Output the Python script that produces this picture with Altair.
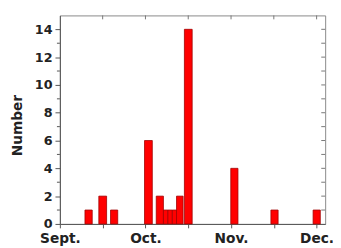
import altair as alt
import pandas as pd

# Bars: start / end position in months after 1 Sept, and count
bar_start = [0.293, 0.455, 0.592, 0.989, 1.126, 1.210, 1.262, 1.314, 1.363, 1.455, 1.997, 2.466, 2.959]
bar_end   = [0.378, 0.546, 0.676, 1.080, 1.210, 1.262, 1.314, 1.363, 1.440, 1.546, 2.081, 2.550, 3.043]
counts    = [1, 2, 1, 6, 2, 1, 1, 1, 2, 14, 4, 1, 1]

month_pos = [0, 1, 2, 3]
month_labels = ["Sept.", "Oct.", "Nov.", "Dec."]
half_ticks = [0, 0.5, 1, 1.5, 2, 2.5, 3]
y_major = [0, 2, 4, 6, 8, 10, 12, 14]
y_minor = [1, 3, 5, 7, 9, 11, 13]
y_right = list(range(1, 15))

df = pd.DataFrame({"start": bar_start, "end": bar_end, "count": counts, "base": [0] * len(counts)})
top_df = pd.DataFrame({"x": half_ticks[1:]})
right_df = pd.DataFrame({"y": y_right})
minor_df = pd.DataFrame({"y": y_minor})

label_map = "{" + ",".join(f"'{p}':'{l}'" for p, l in zip(month_pos, month_labels)) + "}"

FONT = "DejaVu Sans"
AXC = "#555"

xscale = alt.Scale(domain=[0, 3.1], nice=False, zero=False)
yscale = alt.Scale(domain=[0, 15], nice=False)

bars = alt.Chart(df).mark_bar(fill="#ff0000", stroke="#a00000", strokeWidth=0.8).encode(
    x=alt.X("start:Q", scale=xscale, title=None,
            axis=alt.Axis(values=half_ticks,
                          labelExpr=f"{label_map}[datum.value] || ''",
                          tickSize=4, labelPadding=4, labelFont=FONT, labelFontSize=14,
                          labelFontWeight="bold", labelColor="#222", domainColor=AXC,
                          tickColor=AXC, grid=False, labelFlush=False,
                          labelOverlap=False, labelBound=False)),
    x2="end:Q",
    y=alt.Y("count:Q", scale=yscale, title="Number",
            axis=alt.Axis(values=y_major,
                          tickSize=5, labelPadding=3, labelFont=FONT, labelFontSize=13,
                          labelFontWeight="bold", labelColor="#222", domainColor=AXC,
                          tickColor=AXC, grid=False, titleFont=FONT, titleFontSize=14,
                          titleFontWeight="bold", titleColor="#222", titlePadding=10,
                          titleY=112,
                          labelOverlap=False, labelBound=False, labelFlush=False)),
    y2="base:Q",
)

top_ticks = alt.Chart(top_df).mark_rule(color="#777", strokeWidth=1).encode(
    x=alt.X("x:Q", scale=xscale, axis=None),
    y=alt.value(0),
    y2=alt.value(4),
)

right_ticks = alt.Chart(right_df).mark_rule(color="#777", strokeWidth=1).encode(
    y=alt.Y("y:Q", scale=yscale, axis=None),
    x=alt.value(271),
    x2=alt.value(267),
)

minor_ticks = alt.Chart(minor_df).mark_rule(color=AXC, strokeWidth=1).encode(
    y=alt.Y("y:Q", scale=yscale, axis=None),
    x=alt.value(0),
    x2=alt.value(-3),
)

chart = alt.layer(bars, top_ticks, right_ticks, minor_ticks).resolve_axis(
    x="independent", y="independent"
).properties(
    width=271, height=213,
    padding={"left": 53, "top": 5, "right": 8, "bottom": 22},
    autosize=alt.AutoSizeParams(type="none"),
    background="white",
).configure_view(stroke="#888", strokeWidth=1)

chart.save("out.html", embed_options={"renderer": "svg", "actions": False})
